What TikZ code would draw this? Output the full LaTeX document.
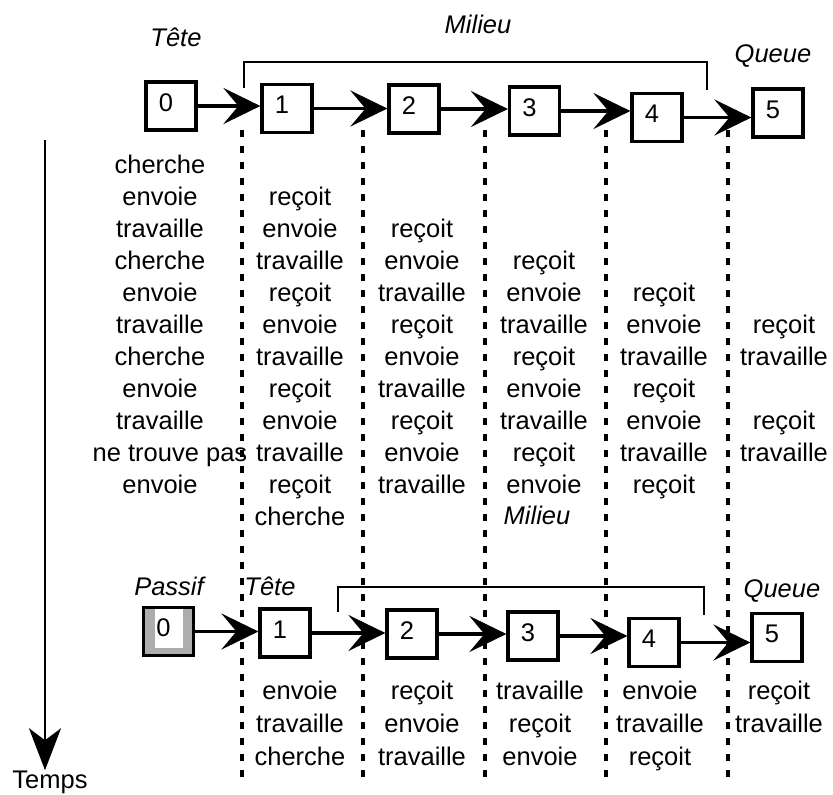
\documentclass[tikz,border=0pt]{standalone}
\usepackage{fontspec}
\setmainfont{Liberation Sans}
\usetikzlibrary{arrows.meta}

\begin{document}
\begin{tikzpicture}[x=1pt,y=-1pt,
  txt/.style={font=\fontsize{25.5}{30}\selectfont, inner sep=0pt, anchor=base},
  tag/.style={txt, font=\fontsize{25.5}{30}\selectfont\itshape},
  box/.style={draw, line width=3.2pt, minimum width=50pt, minimum height=48pt,
    inner sep=0pt, font=\fontsize{25.5}{30}\selectfont,
    text height=18pt, text depth=8pt, execute at end node={\hspace*{10pt}}},
  idlebox/.style={box, fill=black!32,
    path picture={\fill[white]
      ([xshift=11pt,yshift=-1.5pt]path picture bounding box.north west) rectangle
      ([xshift=-11pt,yshift=8pt]path picture bounding box.south east);}},
  link/.style={line width=3.2pt, -{Stealth[length=37pt,width=36pt,inset=15pt]}},
  bracket/.style={line width=2.8pt},
  sep/.style={line width=3.2pt, dash pattern=on 7pt off 9pt},
  timeline/.style={line width=2.8pt, -{Stealth[length=42pt,width=32pt,inset=12pt]}}
]
\useasboundingbox (0,0) rectangle (833,795);

% column separators
\foreach \x in {242,363,485,606,728}
  \draw[sep] (\x,130) -- (\x,785);

% ---- first pipeline ----
\node[box] (t0) at (171,106)   {0};
\node[box] (t1) at (287,108.5) {1};
\node[box] (t2) at (414,109)   {2};
\node[box] (t3) at (534.5,111) {3};
\node[box] (t4) at (657,117.5) {4};
\node[box] (t5) at (778,113)   {5};

\draw[link] (t0.east) -- (t0.east -| t1.west);
\draw[link] (t1.east) -- (t1.east -| t2.west);
\draw[link] (t2.east) -- (t2.east -| t3.west);
\draw[link] (t3.east) -- (t3.east -| t4.west);
\draw[link] (t4.east) -- (t4.east -| t5.west);

\draw[bracket] (244,88) |- (707,62) -- (707,90);

\node[tag] (tete1) at (176,46) {Tête};
\node[tag] (mil1)  at (478,33) {Milieu};
\node[tag] (que1)  at (773,62) {Queue};

% actions, one column per stage
\foreach \w [count=\k] in {cherche,envoie,travaille,cherche,envoie,travaille,cherche,envoie,travaille}
  \node[txt] (a0-\k) at (160,{173+(\k-1)*32}) {\w};
\node[txt] (a0-10) at (170,{173+9*32}) {ne trouve pas};
\node[txt] (a0-11) at (160,{173+10*32}) {envoie};

\foreach \w [count=\k from 2] in {reçoit,envoie,travaille,reçoit,envoie,travaille,reçoit,envoie,travaille,reçoit,cherche}
  \node[txt] (a1-\k) at (300,{173+(\k-1)*32}) {\w};

\foreach \w [count=\k from 3] in {reçoit,envoie,travaille,reçoit,envoie,travaille,reçoit,envoie,travaille}
  \node[txt] (a2-\k) at (422,{173+(\k-1)*32}) {\w};

\foreach \w [count=\k from 4] in {reçoit,envoie,travaille,reçoit,envoie,travaille,reçoit,envoie}
  \node[txt] (a3-\k) at (544,{173+(\k-1)*32}) {\w};

\foreach \w [count=\k from 5] in {reçoit,envoie,travaille,reçoit,envoie,travaille,reçoit}
  \node[txt] (a4-\k) at (664,{173+(\k-1)*32}) {\w};

\node[txt] (a5-6)  at (784,{173+5*32}) {reçoit};
\node[txt] (a5-7)  at (784,{173+6*32}) {travaille};
\node[txt] (a5-9)  at (784,{173+8*32}) {reçoit};
\node[txt] (a5-10) at (784,{173+9*32}) {travaille};

% ---- second pipeline ----
\node[idlebox] (b0) at (168.5,631.5) {0};
\node[box] (b1) at (285,633)   {1};
\node[box] (b2) at (412,634)   {2};
\node[box] (b3) at (533,636)   {3};
\node[box] (b4) at (654,642.5) {4};
\node[box] (b5) at (777,637.5) {5};

\draw[link] (b0.east) -- (b0.east -| b1.west);
\draw[link] (b1.east) -- (b1.east -| b2.west);
\draw[link] (b2.east) -- (b2.east -| b3.west);
\draw[link] (b3.east) -- (b3.east -| b4.west);
\draw[link] (b4.east) -- (b4.east -| b5.west);

\draw[bracket] (338,612) |- (704,587) -- (704,615);

\node[tag] (passif) at (169,595) {Passif};
\node[tag] (tete2)  at (270,595) {Tête};
\node[tag] (mil2)   at (537,524) {Milieu};
\node[tag] (que2)   at (782,597) {Queue};

\foreach \w [count=\k] in {envoie,travaille,cherche}
  \node[txt] (c1-\k) at (300,{699+(\k-1)*33}) {\w};
\foreach \w [count=\k] in {reçoit,envoie,travaille}
  \node[txt] (c2-\k) at (422,{699+(\k-1)*33}) {\w};
\foreach \w [count=\k] in {travaille,reçoit,envoie}
  \node[txt] (c3-\k) at (540,{699+(\k-1)*33}) {\w};
\foreach \w [count=\k] in {envoie,travaille,reçoit}
  \node[txt] (c4-\k) at (660,{699+(\k-1)*33}) {\w};
\foreach \w [count=\k] in {reçoit,travaille}
  \node[txt] (c5-\k) at (779,{699+(\k-1)*33}) {\w};

% ---- time axis ----
\coordinate (tstart) at (45,140);
\node[txt] (temps) at (50,788) {Temps};
\draw[timeline] (tstart) -- (tstart |- temps.north);
\end{tikzpicture}
\end{document}
